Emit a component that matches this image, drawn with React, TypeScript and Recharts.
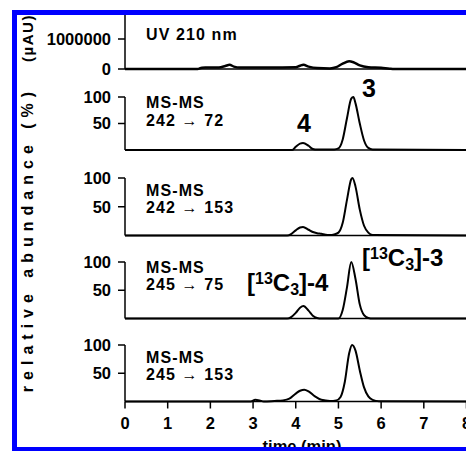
import React from 'react';
import { LineChart, Line, XAxis, YAxis } from 'recharts';

const FONT = '"Liberation Sans", Arial, Helvetica, sans-serif';
const BLUE = '#0000ff';

// time axis ticks (min)
const timeTicks = [0, 1, 2, 3, 4, 5, 6, 7, 8];

// UV 210 nm trace (µAU)
const uvTime = [0, 1.7, 1.8, 2.2, 2.35, 2.45, 2.55, 2.7, 3.5, 4.0, 4.1, 4.18, 4.3, 4.5, 4.8, 4.95, 5.1, 5.25, 5.35, 5.5, 5.7, 6.0, 6.2, 6.3, 8];
const uvSignal = [0, 0, 45000, 50000, 100000, 140000, 80000, 50000, 50000, 55000, 110000, 140000, 80000, 30000, 20000, 60000, 180000, 255000, 225000, 120000, 60000, 40000, 10000, 0, 0];

// MS-MS 242 -> 72 (%)
const t242to72 = [0, 3.8, 3.92, 4.0, 4.1, 4.17, 4.3, 4.4, 4.5, 4.9, 5.0, 5.1, 5.2, 5.3, 5.35, 5.4, 5.5, 5.6, 5.7, 5.8, 8];
const v242to72 = [0, 0, 0, 6, 12, 13, 8, 2, 1, 1, 3, 20, 60, 97, 100, 88, 50, 18, 4, 1, 0];

// MS-MS 242 -> 153 (%)
const t242to153 = [0, 3.7, 3.8, 3.9, 4.0, 4.1, 4.17, 4.3, 4.4, 4.5, 4.6, 4.7, 4.8, 4.9, 5.0, 5.1, 5.2, 5.3, 5.33, 5.4, 5.5, 5.6, 5.7, 5.8, 8];
const v242to153 = [0, 0, 0, 3, 9, 14, 15, 10, 6, 4, 3, 1.5, 1, 2, 5, 22, 62, 98, 100, 85, 45, 17, 5, 1, 0];

// MS-MS 245 -> 75 (%)
const t245to75 = [0, 3.7, 3.8, 3.9, 4.0, 4.1, 4.18, 4.3, 4.4, 4.5, 4.6, 5.0, 5.1, 5.2, 5.3, 5.4, 5.5, 5.6, 5.7, 5.8, 8];
const v245to75 = [0, 0, 0, 3, 10, 19, 22, 14, 5, 1, 0, 0, 15, 55, 100, 70, 25, 6, 1, 0, 0];

// MS-MS 245 -> 153 (%)
const t245to153 = [0, 2.95, 3.05, 3.15, 3.25, 3.5, 3.7, 3.85, 4.0, 4.1, 4.2, 4.3, 4.45, 4.6, 4.8, 4.95, 5.05, 5.15, 5.25, 5.32, 5.4, 5.5, 5.6, 5.7, 5.8, 5.95, 8];
const v245to153 = [0, 0, 3, 2, 0, 1, 2, 5, 14, 19, 21, 18, 9, 3, 1, 2, 8, 35, 85, 100, 90, 55, 25, 9, 3, 0.5, 0];

const zip = (t: number[], v: number[]) => t.map((x, i) => ({ t: x, v: v[i] }));

const tickStyle = { fill: '#000', fontSize: 16.5, fontWeight: 'bold', fontFamily: FONT };

interface PanelProps {
  plotTop: number;
  plotBottom: number;
  data: { t: number; v: number }[];
  domain: [number, number];
  yTicks: number[];
  showTime?: boolean;
  lineWidth?: number;
}

const Panel = ({ plotTop, plotBottom, data, domain, yTicks, showTime, lineWidth = 2 }: PanelProps) => {
  const mTop = 12;
  const xH = showTime ? 50 : 2;
  const mBottom = showTime ? 0 : 12;
  const h = mTop + (plotBottom - plotTop) + xH + mBottom;
  return (
    <div style={{ position: 'absolute', left: 0, top: plotTop - mTop }}>
      <LineChart width={480} height={h} data={data} margin={{ top: mTop, right: 13.5, left: 0, bottom: mBottom }}>
        <XAxis
          type="number"
          dataKey="t"
          domain={[0, 8]}
          ticks={timeTicks}
          height={xH}
          tick={showTime ? tickStyle : false}
          tickLine={showTime ? { stroke: '#000', strokeWidth: 1.5 } : false}
          tickSize={7}
          tickMargin={9}
          axisLine={{ stroke: '#000', strokeWidth: 1.5 }}
        />
        <YAxis
          type="number"
          domain={domain}
          ticks={yTicks}
          width={125}
          interval={0}
          tick={tickStyle}
          tickSize={7}
          tickMargin={7}
          tickLine={{ stroke: '#000', strokeWidth: 1.5 }}
          axisLine={{ stroke: '#000', strokeWidth: 1.5 }}
        />
        <Line type="monotone" dataKey="v" stroke="#000" strokeWidth={lineWidth} dot={false} isAnimationActive={false} />
      </LineChart>
    </div>
  );
};

const textStyle = { fontFamily: FONT, fontWeight: 'bold' as const };

export default function App() {
  return (
    <div style={{ position: 'absolute', left: 0, top: 0, width: 466, height: 451, overflow: 'hidden', background: '#fff' }}>
      <Panel plotTop={14} plotBottom={69} data={zip(uvTime, uvSignal)} domain={[0, 1833333]} yTicks={[0, 1000000]} lineWidth={2.5} />
      <Panel plotTop={97} plotBottom={150} data={zip(t242to72, v242to72)} domain={[0, 100]} yTicks={[50, 100]} />
      <Panel plotTop={178} plotBottom={235.5} data={zip(t242to153, v242to153)} domain={[0, 100]} yTicks={[50, 100]} />
      <Panel plotTop={262} plotBottom={318.5} data={zip(t245to75, v245to75)} domain={[0, 100]} yTicks={[50, 100]} />
      <Panel plotTop={345} plotBottom={401.5} data={zip(t245to153, v245to153)} domain={[0, 100]} yTicks={[50, 100]} showTime />

      <svg width={466} height={451} style={{ position: 'absolute', left: 0, top: 0, pointerEvents: 'none' }}>
        <g {...textStyle} fontSize={16} letterSpacing={1.1} fill="#000">
          <text x={146} y={40}>UV 210 nm</text>
          <text x={146} y={108}>MS-MS</text>
          <text x={146} y={126}>242 → 72</text>
          <text x={146} y={195.5}>MS-MS</text>
          <text x={146} y={212.5}>242 → 153</text>
          <text x={146} y={273}>MS-MS</text>
          <text x={146} y={290}>245 → 75</text>
          <text x={146} y={363}>MS-MS</text>
          <text x={146} y={380}>245 → 153</text>
        </g>
        <g {...textStyle} fontSize={25} fill="#000">
          <text x={362} y={97}>3</text>
          <text x={297} y={132}>4</text>
        </g>
        <g {...textStyle} fontSize={24} fill="#000">
          <text x={362} y={266}>
            [<tspan dy={-7} fontSize={16}>13</tspan>
            <tspan dy={7}>C</tspan>
            <tspan dy={4} fontSize={16}>3</tspan>
            <tspan dy={-4}>]-3</tspan>
          </text>
          <text x={247} y={291}>
            [<tspan dy={-7} fontSize={16}>13</tspan>
            <tspan dy={7}>C</tspan>
            <tspan dy={4} fontSize={16}>3</tspan>
            <tspan dy={-4}>]-4</tspan>
          </text>
        </g>
        <text {...textStyle} x={302} y={452} fontSize={16.5} textAnchor="middle" fill="#000">time (min)</text>
        <text {...textStyle} transform="translate(27,239) rotate(-90)" fontSize={16} letterSpacing={6} textAnchor="middle" dominantBaseline="central" fill="#000">
          relative abundance (%)
        </text>
        <text {...textStyle} transform="translate(27,38) rotate(-90)" fontSize={15} letterSpacing={1.5} textAnchor="middle" dominantBaseline="central" fill="#000">
          (µAU)
        </text>
      </svg>

      <div
        style={{
          position: 'absolute',
          left: 12,
          top: 10,
          width: 480,
          height: 441,
          boxSizing: 'border-box',
          borderTop: `5px solid ${BLUE}`,
          borderLeft: `5px solid ${BLUE}`,
          borderBottom: `4px solid ${BLUE}`,
        }}
      />
    </div>
  );
}
